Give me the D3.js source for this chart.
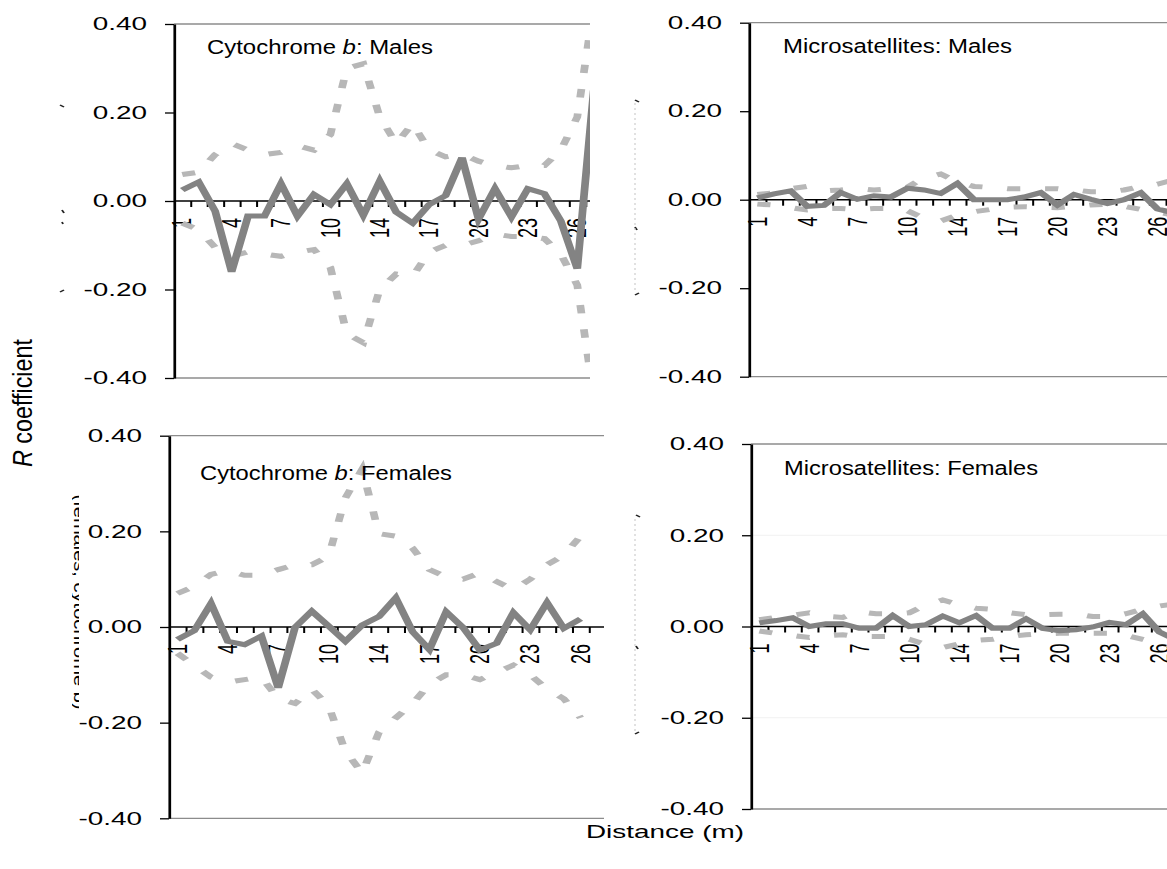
<!DOCTYPE html>
<html>
<head>
<meta charset="utf-8">
<script src="https://cdn.jsdelivr.net/npm/d3@7"></script>
<style>
  body { margin: 0; background: #fff; }
  text { font-family: "Liberation Sans", Arial, sans-serif; fill: #000; }
</style>
</head>
<body>
<div id="chart"></div>
<script>
// distance classes (m); 13 is not in the series
const categories = [1,2,3,4,5,6,7,8,9,10,11,12,14,15,16,17,18,19,20,21,22,23,24,25,26,27,28];
const labelled = [1,4,7,10,14,17,20,23,26];
const yTicks = [0.4, 0.2, 0, -0.2, -0.4];

// Cytochrome b, males: r and 95% envelope
const cytMaleR = [0.025,0.043,-0.023,-0.160,-0.034,-0.034,0.039,-0.034,0.015,-0.008,0.039,-0.032,0.045,-0.025,-0.050,-0.008,0.012,0.098,-0.041,0.028,-0.036,0.028,0.017,-0.045,-0.153,0.25];
const cytMaleU = [0.060,0.065,0.105,0.130,0.115,0.105,0.110,0.125,0.115,0.150,0.300,0.310,0.190,0.130,0.175,0.115,0.100,0.105,0.090,0.080,0.075,0.080,0.080,0.115,0.190,0.44];
const cytMaleL = [-0.050,-0.065,-0.105,-0.125,-0.115,-0.120,-0.125,-0.115,-0.110,-0.150,-0.300,-0.320,-0.200,-0.165,-0.170,-0.115,-0.100,-0.100,-0.090,-0.075,-0.080,-0.080,-0.085,-0.120,-0.190,-0.44];

// Microsatellites, males
const msatMaleR = [0.004,0.013,0.020,-0.015,-0.013,0.016,0.001,0.009,0.006,0.026,0.022,0.014,0.037,0.000,0.000,0.000,0.006,0.016,-0.012,0.012,0.001,-0.009,0.000,0.016,-0.021,-0.030];
const msatMaleU = [0.012,0.015,0.025,0.030,0.020,0.022,0.025,0.022,0.025,0.028,0.050,0.058,0.040,0.030,0.028,0.025,0.025,0.025,0.025,0.022,0.018,0.018,0.022,0.030,0.035,0.045];
const msatMaleL = [-0.010,-0.012,-0.018,-0.023,-0.020,-0.020,-0.022,-0.020,-0.020,-0.025,-0.042,-0.048,-0.035,-0.027,-0.022,-0.017,-0.016,-0.017,-0.018,-0.015,-0.012,-0.010,-0.015,-0.022,-0.028,-0.035];

// Cytochrome b, females
const cytFemaleR = [-0.026,-0.008,0.049,-0.030,-0.037,-0.019,-0.127,-0.001,0.033,0.002,-0.030,0.004,0.022,0.061,-0.010,-0.047,0.032,-0.001,-0.048,-0.034,0.030,-0.006,0.051,-0.003,0.017];
const cytFemaleU = [0.070,0.085,0.110,0.118,0.108,0.108,0.120,0.130,0.130,0.148,0.270,0.330,0.195,0.190,0.165,0.120,0.105,0.100,0.113,0.095,0.078,0.100,0.130,0.150,0.190];
const cytFemaleL = [-0.055,-0.080,-0.105,-0.115,-0.110,-0.105,-0.150,-0.160,-0.130,-0.165,-0.260,-0.305,-0.220,-0.190,-0.160,-0.120,-0.100,-0.100,-0.110,-0.095,-0.080,-0.100,-0.130,-0.150,-0.190];

// Microsatellites, females
const msatFemaleR = [0.008,0.013,0.019,0.000,0.006,0.006,-0.004,-0.004,0.024,0.000,0.004,0.023,0.008,0.024,-0.004,-0.004,0.017,-0.004,-0.009,-0.007,-0.001,0.009,0.004,0.028,-0.012,-0.030];
const msatFemaleU = [0.015,0.020,0.025,0.030,0.022,0.020,0.032,0.028,0.028,0.030,0.048,0.058,0.048,0.040,0.038,0.030,0.026,0.026,0.027,0.027,0.022,0.022,0.028,0.038,0.045,0.050];
const msatFemaleL = [-0.010,-0.015,-0.020,-0.024,-0.020,-0.018,-0.022,-0.022,-0.022,-0.028,-0.040,-0.046,-0.038,-0.030,-0.028,-0.022,-0.018,-0.016,-0.015,-0.015,-0.015,-0.015,-0.020,-0.028,-0.035,-0.045];

const S = 1.55; // the whole figure is stretched sideways
const W = 1167, H = 869;

// layout of the four panels, in screen px
const panels = [
  { id: "cm", title: [["Cytochrome ", false], ["b", true], [": Males", false]],
    r: cytMaleR, hi: cytMaleU, lo: cytMaleL,
    axisX: 174, top: 24, bottom: 378, step: 16.46, right: 590, tx: 207, ty: 54.5, tw: 226 },
  { id: "mm", title: [["Microsatellites: Males", false]],
    r: msatMaleR, hi: msatMaleU, lo: msatMaleL,
    axisX: 749, top: 22.7, bottom: 376.7, step: 16.67, right: 1167, tx: 783, ty: 53, tw: 229 },
  { id: "cf", title: [["Cytochrome ", false], ["b", true], [": Females", false]],
    r: cytFemaleR, hi: cytFemaleU, lo: cytFemaleL,
    axisX: 169, top: 435.7, bottom: 818.3, step: 16.8, right: 604, tx: 200, ty: 480, tw: 252 },
  { id: "mf", title: [["Microsatellites: Females", false]],
    r: msatFemaleR, hi: msatFemaleU, lo: msatFemaleL,
    axisX: 751, top: 444, bottom: 809, step: 16.67, right: 1167, tx: 784, ty: 475, tw: 254, grid: true }
];

const svg = d3.select("#chart").append("svg").attr("width", W).attr("height", H);
const defs = svg.append("defs");
const root = svg.append("g").attr("transform", `scale(${S},1)`);

panels.forEach(p => {
  const g = root.append("g").attr("transform", `translate(${p.axisX / S},0)`);
  const plotW = (p.right - p.axisX) / S;

  const x = d3.scaleBand().domain(categories).range([0, categories.length * p.step / S]);
  const xb = d3.scaleLinear().domain([0, categories.length]).range(x.range());
  const y = d3.scaleLinear().domain([-0.4, 0.4]).range([p.bottom, p.top]);
  const cx = i => x(categories[i]) + x.bandwidth() / 2;

  defs.append("clipPath").attr("id", "clip-" + p.id).append("rect")
    .attr("x", -200).attr("y", 0).attr("width", plotW + 200).attr("height", H);
  defs.append("clipPath").attr("id", "plot-" + p.id).append("rect")
    .attr("x", 0).attr("y", p.top).attr("width", plotW).attr("height", p.bottom - p.top);

  const body = g.append("g").attr("clip-path", `url(#clip-${p.id})`);

  if (p.grid) {
    body.selectAll(".grid").data([0.2, -0.2]).join("line")
      .attr("x1", 0).attr("x2", plotW).attr("y1", y).attr("y2", y)
      .attr("stroke", "#f1f1f1").attr("stroke-width", 1);
  }

  // plot area border, top and bottom
  body.selectAll(".frame").data([0.4, -0.4]).join("line")
    .attr("x1", 0).attr("x2", plotW).attr("y1", y).attr("y2", y)
    .attr("stroke", "#8c8c8c").attr("stroke-width", 1.3);

  // category axis crossing at zero, ticks between categories
  const xAxis = body.append("g").attr("transform", `translate(0,${y(0)})`)
    .call(d3.axisBottom(xb).tickValues(d3.range(1, categories.length + 1))
      .tickSize(6).tickSizeOuter(0).tickFormat(""));
  xAxis.select(".domain").remove();
  xAxis.selectAll("line").attr("stroke", "#000").attr("stroke-width", 1.3);
  body.append("line").attr("x1", 0).attr("x2", plotW).attr("y1", y(0)).attr("y2", y(0))
    .attr("stroke", "#000").attr("stroke-width", 1.4);

  body.selectAll(".xl").data(labelled).join("text")
    .attr("transform", d => `translate(${x(d) + x.bandwidth() / 2},${y(0) + 17}) rotate(-90)`)
    .attr("text-anchor", "end").attr("dy", "0.33em").attr("font-size", 18)
    .text(d => d);

  // series: envelope dashed, r solid
  const line = d3.line().x((d, i) => cx(i)).y(d => y(d));
  const plot = g.append("g").attr("clip-path", `url(#plot-${p.id})`);
  [p.hi, p.lo].forEach(s => {
    plot.append("path").datum(s).attr("d", line)
      .attr("fill", "none").attr("stroke", "#b7b7b7").attr("stroke-width", 5)
      .attr("stroke-dasharray", "8.5,16");
  });
  plot.append("path").datum(p.r).attr("d", line)
    .attr("fill", "none").attr("stroke", "#838383").attr("stroke-width", 5);

  // value axis
  const yAxis = g.append("g")
    .call(d3.axisLeft(y).tickValues(yTicks).tickSize(9 / S).tickSizeOuter(0)
      .tickPadding(11.6).tickFormat(d => d.toFixed(2)));
  yAxis.attr("font-size", 18);
  yAxis.select(".domain").attr("stroke", "#000").attr("stroke-width", 1.75);
  yAxis.selectAll("line").attr("stroke", "#000").attr("stroke-width", 1.3);

  const t = g.append("text")
    .attr("x", (p.tx - p.axisX) / S).attr("y", p.ty)
    .attr("font-size", 21)
    .attr("textLength", p.tw / S).attr("lengthAdjust", "spacingAndGlyphs");
  p.title.forEach(([s, it]) => t.append("tspan").attr("font-style", it ? "italic" : null).text(s));
});

// axis titles
const yt = root.append("text")
  .attr("transform", `translate(${32 / S},403) rotate(-90)`)
  .attr("text-anchor", "middle").attr("font-size", 18)
  .attr("textLength", 128).attr("lengthAdjust", "spacingAndGlyphs");
yt.append("tspan").attr("font-style", "italic").text("R");
yt.append("tspan").text(" coefficient");

root.append("text")
  .attr("x", 665 / S).attr("y", 838)
  .attr("text-anchor", "middle").attr("font-size", 18)
  .text("Distance (m)");

// leftover marks of hidden axes in the source figure
const ghostTicks = [
  [60, 105, 64, 107], [62, 210, 64, 213], [62, 222, 63, 224], [60, 292, 64, 290],
  [635, 100, 639, 102], [635, 227, 637, 230], [635, 295, 639, 293],
  [636, 515, 640, 517], [636, 646, 638, 649], [635, 734, 639, 732]
];
root.selectAll(".ghost").data(ghostTicks).join("line")
  .attr("x1", d => d[0] / S).attr("y1", d => d[1]).attr("x2", d => d[2] / S).attr("y2", d => d[3])
  .attr("stroke", "#222").attr("stroke-width", 1.2);
root.selectAll(".ghostdot").data([[103, 293], [519, 731]]).join("line")
  .attr("x1", 635 / S).attr("x2", 635 / S).attr("y1", d => d[0]).attr("y2", d => d[1])
  .attr("stroke", "#c8c8c8").attr("stroke-width", 0.7).attr("stroke-dasharray", "2,3");

defs.append("clipPath").attr("id", "frag").append("rect")
  .attr("x", 72 / S).attr("y", 480).attr("width", 7 / S).attr("height", 250);
root.append("g").attr("clip-path", "url(#frag)")
  .append("text")
  .attr("transform", `translate(${74 / S},602) rotate(90)`)
  .attr("text-anchor", "middle").attr("font-size", 11)
  .attr("textLength", 215).attr("lengthAdjust", "spacingAndGlyphs")
  .attr("fill", "#333")
  .text("(females, cytochrome b)");
</script>
</body>
</html>
